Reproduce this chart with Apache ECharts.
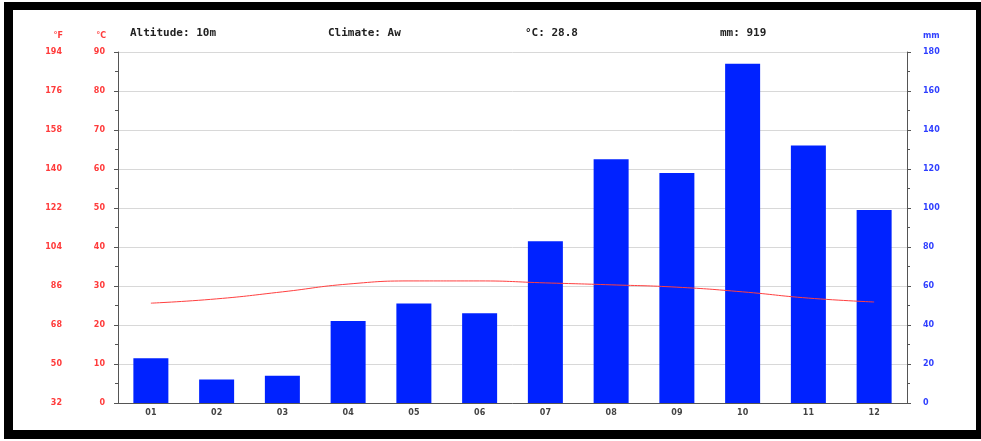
<!DOCTYPE html>
<html><head><meta charset="utf-8">
<script src="https://cdn.jsdelivr.net/npm/echarts@6/dist/echarts.min.js"></script>
<style>html,body{margin:0;padding:0;background:#fff}#c{width:981px;height:441px}</style>
</head><body><div id="c"></div>
<script>
const months = ['01','02','03','04','05','06','07','08','09','10','11','12'];
const precipMm = [23, 12, 14, 42, 51, 46, 83, 125, 118, 174, 132, 99];
const tempC = [25.6, 26.7, 28.5, 30.5, 31.3, 31.3, 30.8, 30.3, 29.7, 28.5, 26.9, 25.9];
const headerTexts = ['Altitude: 10m', 'Climate: Aw', '°C: 28.8', 'mm: 919'];
const headerX = [130, 328, 525, 720];

const chart = echarts.init(document.getElementById('c'));
const red = '#ff3b3b', blue = '#2f3fff', axisGrey = '#555';
const labelFont = {fontFamily: 'DejaVu Sans', fontSize: 8, fontWeight: 'bold'};
function yBase(extra) {
  return Object.assign({
    type: 'value', min: 0,
    axisLine: {show: true, lineStyle: {color: axisGrey, width: 1}},
    axisTick: {show: true, length: 4, lineStyle: {color: axisGrey}},
    minorTick: {show: true, splitNumber: 2, length: 3, lineStyle: {color: axisGrey}},
    splitLine: {show: false},
    nameGap: 12
  }, extra);
}
chart.setOption({
  animation: false,
  backgroundColor: '#fff',
  graphic: [
    {type: 'rect', shape: {x: 4, y: 2, width: 977, height: 437}, style: {fill: '#000'}, z: -10},
    {type: 'rect', shape: {x: 13, y: 10, width: 963, height: 420}, style: {fill: '#fff'}, z: -9}
  ].concat(headerTexts.map((t, i) => ({
    type: 'text', left: headerX[i], top: 28,
    style: {text: t, fill: '#222', font: 'bold 11px "DejaVu Sans Mono"'}
  }))),
  grid: {left: 118, right: 74, top: 52, bottom: 38},
  xAxis: {
    type: 'category', data: months,
    axisLine: {lineStyle: {color: axisGrey}},
    axisTick: {show: false},
    axisLabel: Object.assign({color: '#444', margin: 6}, labelFont)
  },
  yAxis: [
    yBase({max: 90, interval: 10, position: 'left', name: '°C',
      nameTextStyle: Object.assign({color: red, align: 'right', padding: [0, 12, 0, 0]}, labelFont),
      axisLabel: Object.assign({color: red, margin: 13}, labelFont),
      splitLine: {show: true, lineStyle: {color: '#d8d8d8'}}}),
    yBase({max: 90, interval: 10, position: 'left', offset: 43, name: '°F',
      axisLine: {show: false}, axisTick: {show: false}, minorTick: {show: false},
      nameTextStyle: Object.assign({color: red, align: 'right', padding: [0, 12, 0, 0]}, labelFont),
      axisLabel: Object.assign({color: red, margin: 13, formatter: v => String(Math.round(v * 1.8 + 32))}, labelFont)}),
    yBase({max: 180, interval: 20, position: 'right', name: 'mm',
      nameTextStyle: Object.assign({color: blue, align: 'left', padding: [0, 0, 0, 16]}, labelFont),
      axisLabel: Object.assign({color: blue, margin: 16}, labelFont)})
  ],
  series: [
    {type: 'bar', data: precipMm, yAxisIndex: 2, barWidth: 35,
      itemStyle: {color: '#0022ff'}, z: 2},
    {type: 'line', data: tempC, yAxisIndex: 0, smooth: true, showSymbol: false,
      lineStyle: {color: '#ff4040', width: 1}, z: 3}
  ]
});
</script></body></html>
